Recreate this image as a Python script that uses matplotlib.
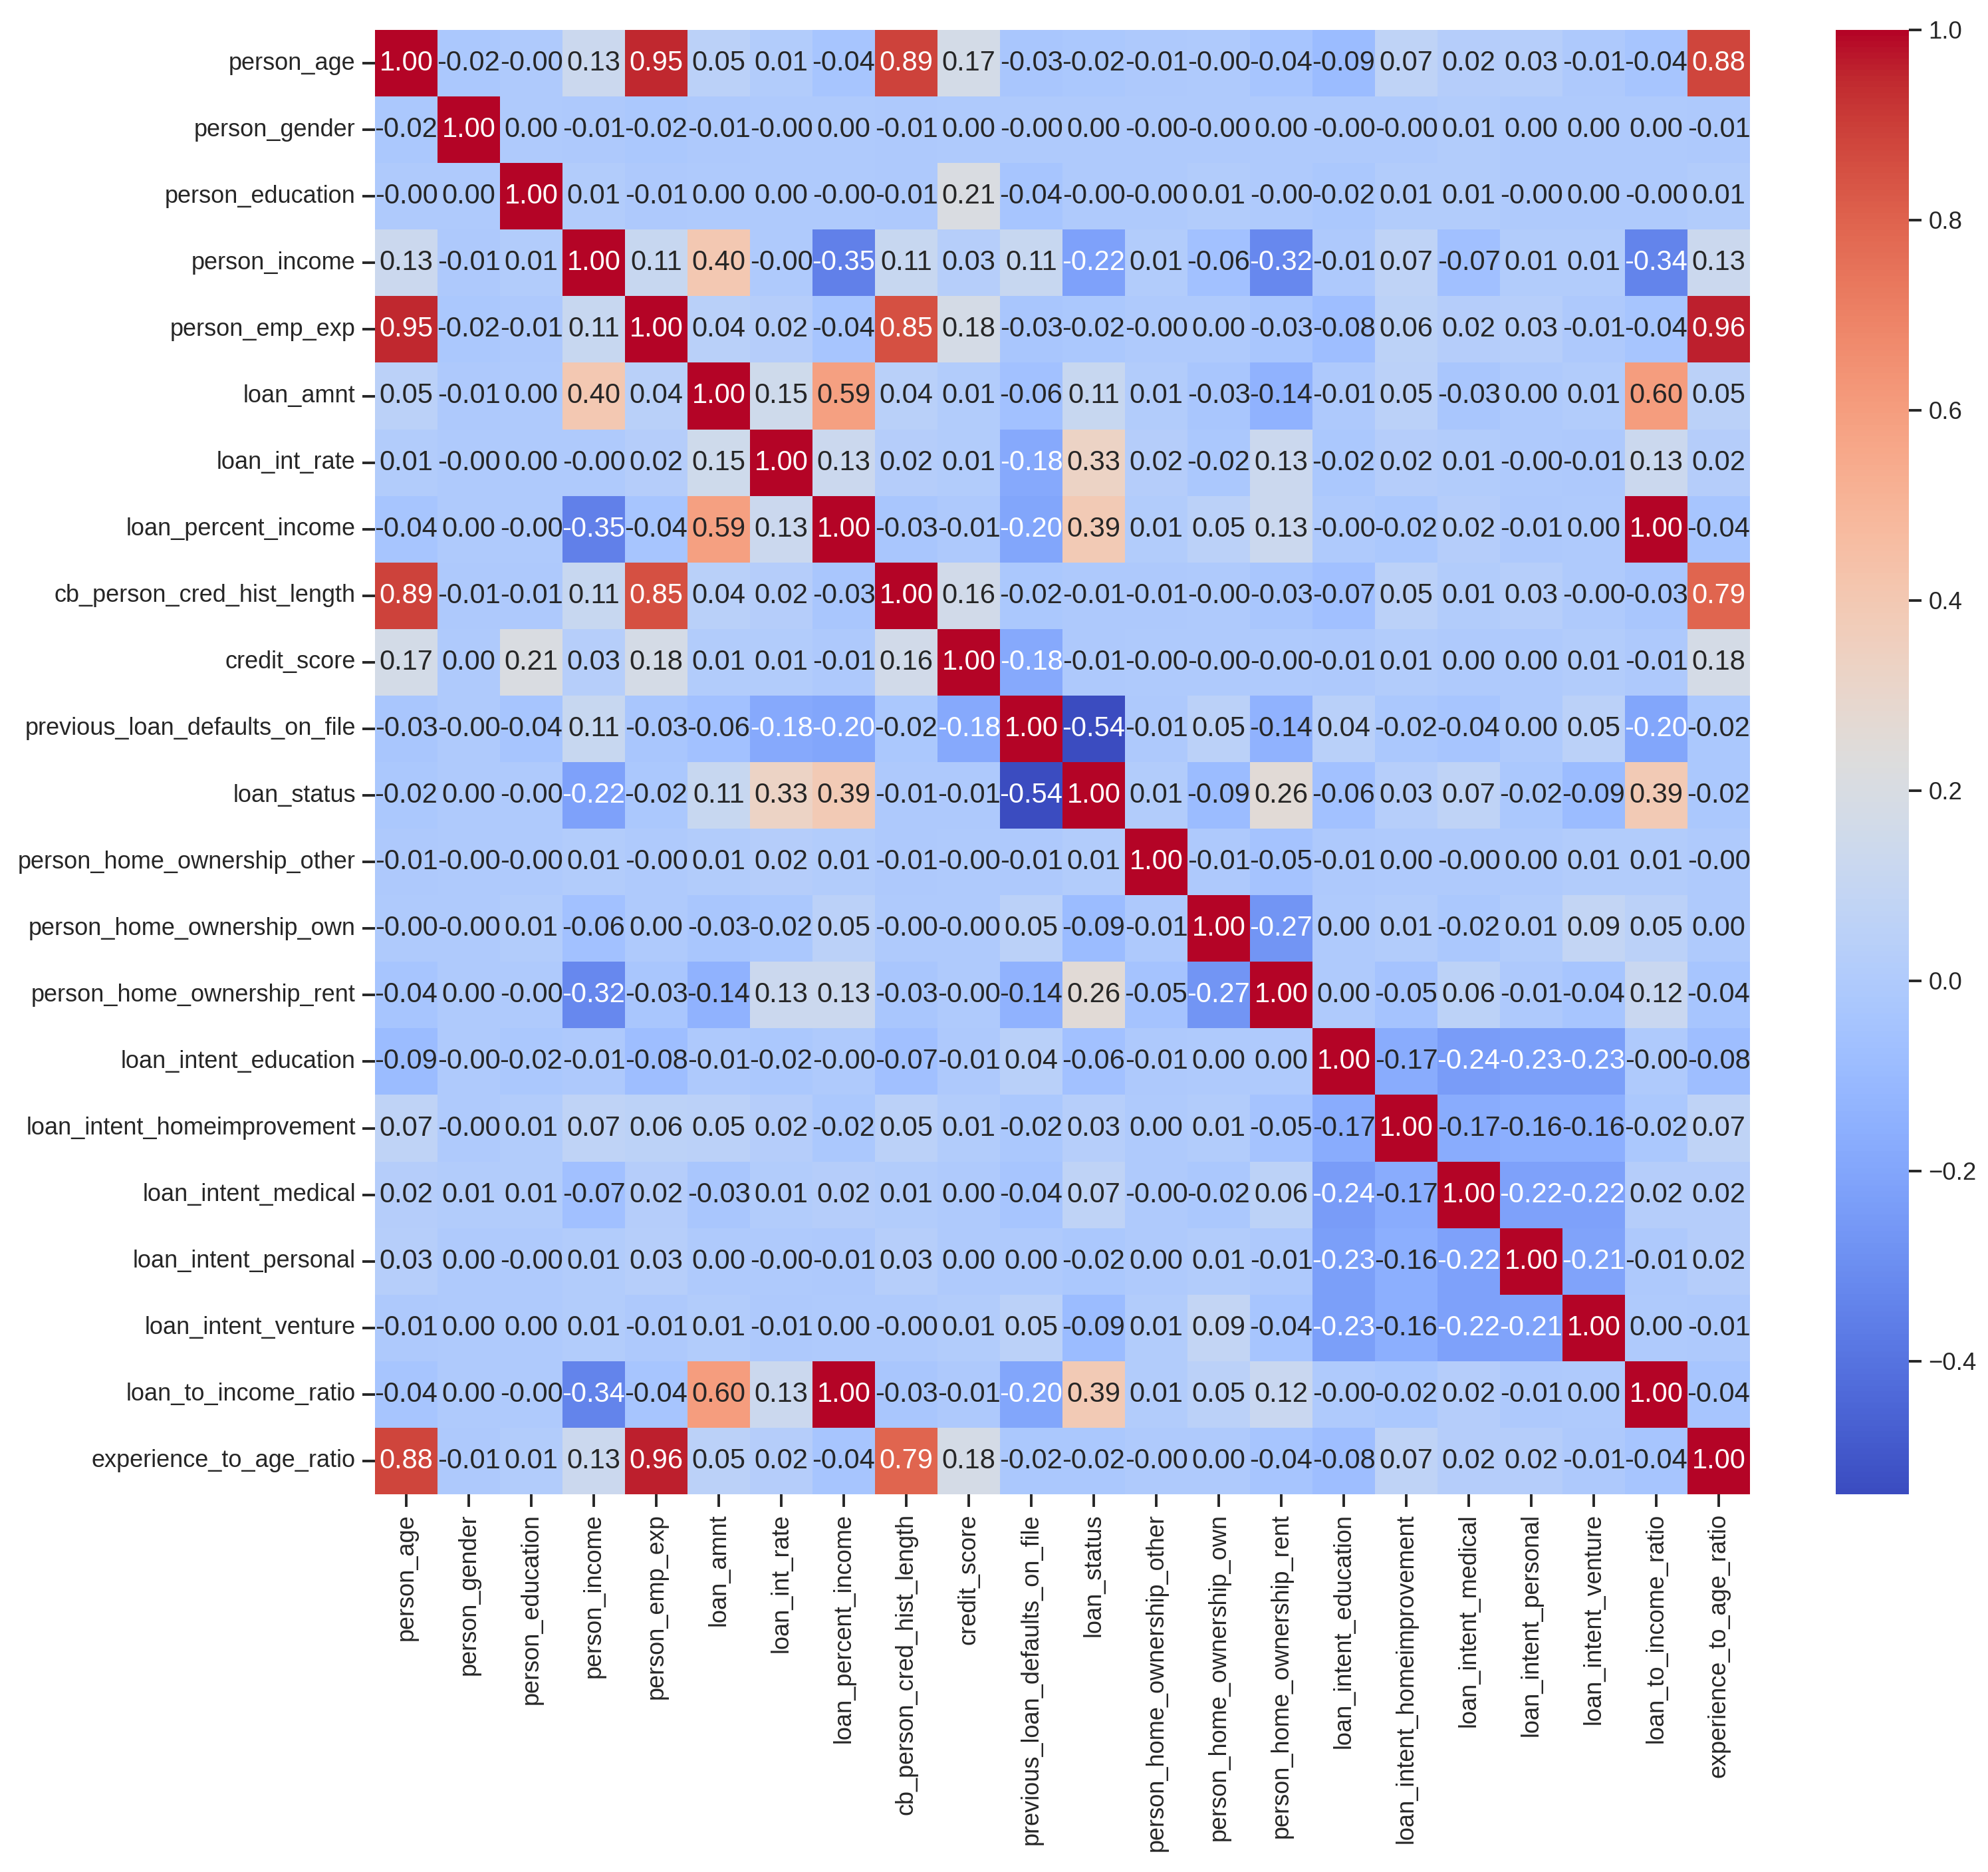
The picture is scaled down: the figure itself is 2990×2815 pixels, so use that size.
import numpy as np
import matplotlib
matplotlib.use("Agg")
import matplotlib.pyplot as plt
import seaborn as sns

# feature names (rows and columns of the correlation matrix)
features = ["person_age", "person_gender", "person_education", "person_income",
            "person_emp_exp", "loan_amnt", "loan_int_rate", "loan_percent_income",
            "cb_person_cred_hist_length", "credit_score", "previous_loan_defaults_on_file",
            "loan_status", "person_home_ownership_other", "person_home_ownership_own",
            "person_home_ownership_rent", "loan_intent_education",
            "loan_intent_homeimprovement", "loan_intent_medical", "loan_intent_personal",
            "loan_intent_venture", "loan_to_income_ratio", "experience_to_age_ratio"]

# values; -0.004 stands for cells shown as "-0.00"
z = -0.004
person_age = [1.00, -0.02, z, 0.13, 0.95, 0.05, 0.01, -0.04, 0.89, 0.17, -0.03, -0.02, -0.01, z, -0.04, -0.09, 0.07, 0.02, 0.03, -0.01, -0.04, 0.88]
person_gender = [-0.02, 1.00, 0.00, -0.01, -0.02, -0.01, z, 0.00, -0.01, 0.00, z, 0.00, z, z, 0.00, z, z, 0.01, 0.00, 0.00, 0.00, -0.01]
person_education = [z, 0.00, 1.00, 0.01, -0.01, 0.00, 0.00, z, -0.01, 0.21, -0.04, z, z, 0.01, z, -0.02, 0.01, 0.01, z, 0.00, z, 0.01]
person_income = [0.13, -0.01, 0.01, 1.00, 0.11, 0.40, z, -0.35, 0.11, 0.03, 0.11, -0.22, 0.01, -0.06, -0.32, -0.01, 0.07, -0.07, 0.01, 0.01, -0.34, 0.13]
person_emp_exp = [0.95, -0.02, -0.01, 0.11, 1.00, 0.04, 0.02, -0.04, 0.85, 0.18, -0.03, -0.02, z, 0.00, -0.03, -0.08, 0.06, 0.02, 0.03, -0.01, -0.04, 0.96]
loan_amnt = [0.05, -0.01, 0.00, 0.40, 0.04, 1.00, 0.15, 0.59, 0.04, 0.01, -0.06, 0.11, 0.01, -0.03, -0.14, -0.01, 0.05, -0.03, 0.00, 0.01, 0.60, 0.05]
loan_int_rate = [0.01, z, 0.00, z, 0.02, 0.15, 1.00, 0.13, 0.02, 0.01, -0.18, 0.33, 0.02, -0.02, 0.13, -0.02, 0.02, 0.01, z, -0.01, 0.13, 0.02]
loan_percent_income = [-0.04, 0.00, z, -0.35, -0.04, 0.59, 0.13, 1.00, -0.03, -0.01, -0.20, 0.39, 0.01, 0.05, 0.13, z, -0.02, 0.02, -0.01, 0.00, 1.00, -0.04]
cb_person_cred_hist_length = [0.89, -0.01, -0.01, 0.11, 0.85, 0.04, 0.02, -0.03, 1.00, 0.16, -0.02, -0.01, -0.01, z, -0.03, -0.07, 0.05, 0.01, 0.03, z, -0.03, 0.79]
credit_score = [0.17, 0.00, 0.21, 0.03, 0.18, 0.01, 0.01, -0.01, 0.16, 1.00, -0.18, -0.01, z, z, z, -0.01, 0.01, 0.00, 0.00, 0.01, -0.01, 0.18]
previous_loan_defaults = [-0.03, z, -0.04, 0.11, -0.03, -0.06, -0.18, -0.20, -0.02, -0.18, 1.00, -0.54, -0.01, 0.05, -0.14, 0.04, -0.02, -0.04, 0.00, 0.05, -0.20, -0.02]
loan_status = [-0.02, 0.00, z, -0.22, -0.02, 0.11, 0.33, 0.39, -0.01, -0.01, -0.54, 1.00, 0.01, -0.09, 0.26, -0.06, 0.03, 0.07, -0.02, -0.09, 0.39, -0.02]
home_other = [-0.01, z, z, 0.01, z, 0.01, 0.02, 0.01, -0.01, z, -0.01, 0.01, 1.00, -0.01, -0.05, -0.01, 0.00, z, 0.00, 0.01, 0.01, z]
home_own = [z, z, 0.01, -0.06, 0.00, -0.03, -0.02, 0.05, z, z, 0.05, -0.09, -0.01, 1.00, -0.27, 0.00, 0.01, -0.02, 0.01, 0.09, 0.05, 0.00]
home_rent = [-0.04, 0.00, z, -0.32, -0.03, -0.14, 0.13, 0.13, -0.03, z, -0.14, 0.26, -0.05, -0.27, 1.00, 0.00, -0.05, 0.06, -0.01, -0.04, 0.12, -0.04]
intent_education = [-0.09, z, -0.02, -0.01, -0.08, -0.01, -0.02, z, -0.07, -0.01, 0.04, -0.06, -0.01, 0.00, 0.00, 1.00, -0.17, -0.24, -0.23, -0.23, z, -0.08]
intent_homeimprovement = [0.07, z, 0.01, 0.07, 0.06, 0.05, 0.02, -0.02, 0.05, 0.01, -0.02, 0.03, 0.00, 0.01, -0.05, -0.17, 1.00, -0.17, -0.16, -0.16, -0.02, 0.07]
intent_medical = [0.02, 0.01, 0.01, -0.07, 0.02, -0.03, 0.01, 0.02, 0.01, 0.00, -0.04, 0.07, z, -0.02, 0.06, -0.24, -0.17, 1.00, -0.22, -0.22, 0.02, 0.02]
intent_personal = [0.03, 0.00, z, 0.01, 0.03, 0.00, z, -0.01, 0.03, 0.00, 0.00, -0.02, 0.00, 0.01, -0.01, -0.23, -0.16, -0.22, 1.00, -0.21, -0.01, 0.02]
intent_venture = [-0.01, 0.00, 0.00, 0.01, -0.01, 0.01, -0.01, 0.00, z, 0.01, 0.05, -0.09, 0.01, 0.09, -0.04, -0.23, -0.16, -0.22, -0.21, 1.00, 0.00, -0.01]
loan_to_income_ratio = [-0.04, 0.00, z, -0.34, -0.04, 0.60, 0.13, 1.00, -0.03, -0.01, -0.20, 0.39, 0.01, 0.05, 0.12, z, -0.02, 0.02, -0.01, 0.00, 1.00, -0.04]
experience_to_age_ratio = [0.88, -0.01, 0.01, 0.13, 0.96, 0.05, 0.02, -0.04, 0.79, 0.18, -0.02, -0.02, z, 0.00, -0.04, -0.08, 0.07, 0.02, 0.02, -0.01, -0.04, 1.00]

corr = np.array([person_age, person_gender, person_education, person_income,
                 person_emp_exp, loan_amnt, loan_int_rate, loan_percent_income,
                 cb_person_cred_hist_length, credit_score, previous_loan_defaults,
                 loan_status, home_other, home_own, home_rent, intent_education,
                 intent_homeimprovement, intent_medical, intent_personal,
                 intent_venture, loan_to_income_ratio, experience_to_age_ratio])

sns.set_theme(style="ticks")
plt.rcParams['font.family'] = ['Liberation Sans', 'DejaVu Sans']

W, H = 2990, 2815
fig = plt.figure(figsize=(W / 200, H / 200), dpi=200)
ax = fig.add_axes([564 / W, 1 - 2247 / H, (2632 - 564) / W, (2247 - 45) / H])
cax = fig.add_axes([2761 / W, 1 - 2247 / H, (2871 - 2761) / W, (2247 - 45) / H])

sns.heatmap(corr, annot=True, fmt=".2f", cmap="coolwarm",
            xticklabels=features, yticklabels=features,
            ax=ax, cbar_ax=cax, annot_kws={"size": 15})

ax.tick_params(axis="both", labelsize=13.0, length=7, width=1.4)
ax.set_xticklabels(features, rotation=90)
ax.set_yticklabels(features, rotation=0)
cax.tick_params(labelsize=13.2, length=7, width=1.4)
cax.set_yticks([-0.4, -0.2, 0.0, 0.2, 0.4, 0.6, 0.8, 1.0])

fig.savefig("out.png", dpi=200)
